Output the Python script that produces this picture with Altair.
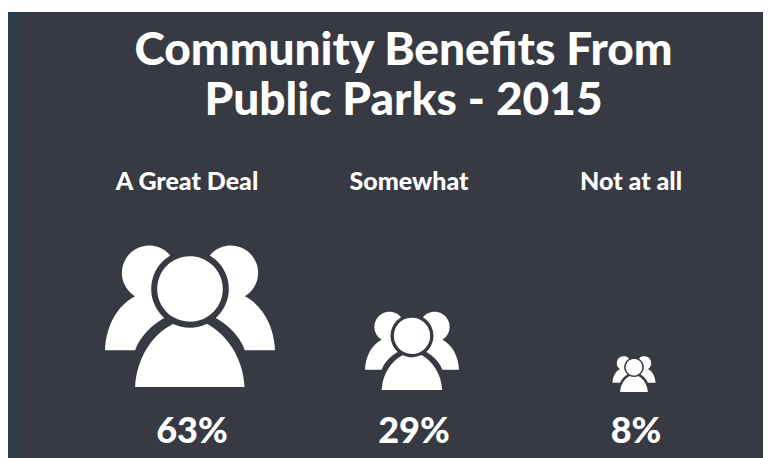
import math
import altair as alt
import pandas as pd

title_lines = ["Community Benefits From", "Public Parks - 2015"]
categories = ["A Great Deal", "Somewhat", "Not at all"]
values = [63, 29, 8]
labels = ["63%", "29%", "8%"]

PANEL = "#373943"
STRIP = "#2c3d49"
WHITE = "#ffffff"
FONT = "Lato"
PAD_TOP = 4


def u(x, y):
    return (x - 299) / 254, (y - 491) / 254


def fmt(x, y):
    return f"{x:.4f},{y:.4f}"


def arc(cx, cy, r, a0, a1):
    """Cubic segments along a circle, angles in degrees (glyph geometry, not data)."""
    n = max(1, int(abs(a1 - a0) // 45) + 1)
    step = math.radians(a1 - a0) / n
    k = 4 / 3 * math.tan(step / 4)
    out = ""
    a = math.radians(a0)
    for _ in range(n):
        b = a + step
        p1 = (cx + r * (math.cos(a) - k * math.sin(a)), cy + r * (math.sin(a) + k * math.cos(a)))
        p2 = (cx + r * (math.cos(b) + k * math.sin(b)), cy + r * (math.sin(b) - k * math.cos(b)))
        p3 = (cx + r * math.cos(b), cy + r * math.sin(b))
        out += "C" + fmt(*u(*p1)) + " " + fmt(*u(*p2)) + " " + fmt(*u(*p3))
        a = b
    return out


def ang(cx, cy, x, y):
    return math.degrees(math.atan2(y - cy, x - cx))


def curve(pts):
    return "C" + " ".join(fmt(*u(*p)) for p in pts)


def side(m):
    """Back figure; m=1 left, m=-1 right (mirrored about the centre column)."""
    X = lambda x: 299 + m * (x - 299)
    hc = (X(177), 130)
    rc = (299, 178)
    a_top = ang(*hc, X(240), 78)
    a_neck = ang(*hc, X(135), 200)
    r_low = ang(*rc, X(222), 265)
    r_up = ang(*rc, X(240), 78)
    if m == 1:
        head = arc(*hc, 81.6, a_top, a_neck - 360 if a_neck > a_top else a_neck)
        ring = arc(*rc, 116, r_low, r_up + 360 if r_up < r_low else r_up)
    else:
        head = arc(*hc, 81.6, a_top, a_neck + 360 if a_neck < a_top else a_neck)
        ring = arc(*rc, 116, r_low, r_up - 360 if r_up > r_low else r_up)
    return (
        "M" + fmt(*u(X(240), 78)) + head
        + curve([(X(85), 225), (X(48), 285), (X(45), 361)])
        + "L" + fmt(*u(X(135), 361))
        + curve([(X(150), 320), (X(185), 285), (X(222), 265)])
        + ring + "Z"
    )


head_path = "M" + fmt(*u(299 + 98, 178)) + arc(299, 178, 98, 0, 360) + "Z"
a0 = ang(299, 178, 350, 283)
a1 = ang(299, 178, 248, 283)
body_path = (
    "M" + fmt(*u(135, 471))
    + curve([(140, 385), (185, 315), (248, 283)])
    + arc(299, 178, 116, a1, a0)
    + curve([(410, 315), (458, 385), (462, 471)])
    + "Z"
)
ICON = side(1) + side(-1) + head_path + body_path

df = pd.DataFrame({"category": categories, "value": values, "label": labels})

x_scale = alt.Scale(domain=categories, range=[182, 626], padding=0)
x_enc = alt.X("category:N", scale=x_scale, axis=None, sort=categories)

strip = alt.Chart(df).mark_rect(color=STRIP).encode(
    x=alt.value(0), x2=alt.value(11), y=alt.value(0), y2=alt.value(446)
)
heads = alt.Chart(df).mark_text(
    font=FONT, fontSize=25, fontWeight=900, color=WHITE, align="center", baseline="alphabetic", dx=-3
).encode(x=x_enc, y=alt.value(190 - 8 - PAD_TOP), text="category:N")
icons = alt.Chart(df).mark_point(filled=True, shape=ICON, color=WHITE, opacity=1, strokeWidth=0).encode(
    x=x_enc,
    y=alt.value(393.7 - 8 - PAD_TOP),
    size=alt.Size("value:Q", scale=alt.Scale(domain=[8, 29, 63], range=[1849, 8836, 28900]), legend=None),
)
pct = alt.Chart(df).mark_text(
    font=FONT, fontSize=36, fontWeight=900, color=WHITE, align="center", baseline="alphabetic", dx=2
).encode(x=x_enc, y=alt.value(443 - 8 - PAD_TOP), text="label:N")

chart = alt.layer(strip, heads, icons, pct).properties(
    width=755,
    height=446,
    padding={"left": 0, "top": PAD_TOP, "right": 0, "bottom": 0},
    autosize=alt.AutoSizeParams(type="none"),
    background="#ffffff",
    title=alt.TitleParams(
        text=title_lines,
        font=FONT, fontSize=46, fontWeight=900, color=WHITE,
        anchor="middle", baseline="alphabetic", lineHeight=50,
        offset=-149, dx=18,
    ),
).configure_view(fill=PANEL, stroke=None)

chart.save("out.html", embed_options={"renderer": "svg", "actions": False})
